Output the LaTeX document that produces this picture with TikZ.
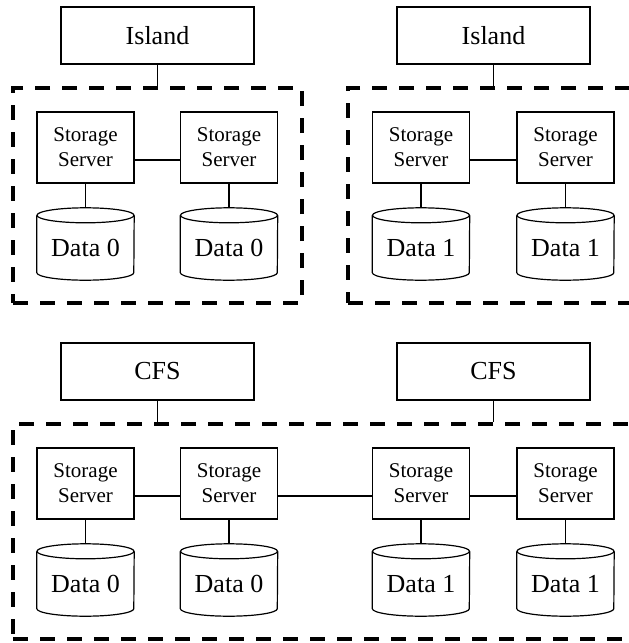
\documentclass[tikz,border=0pt]{standalone}
\usepackage{fontspec}
\setmainfont{Liberation Serif}
\tikzset{
  topbox/.style={draw, line width=1.2pt, minimum width=193pt, minimum height=57pt, inner sep=0pt, font=\fontsize{26}{30}\selectfont},
  srv/.style={draw, line width=1.2pt, minimum width=97pt, minimum height=71pt, inner sep=0pt, align=center, font=\fontsize{21}{25}\selectfont},
  cylbody/.style={minimum width=97pt, minimum height=64.5pt, inner sep=0pt, font=\fontsize{26}{30}\selectfont},
  link/.style={line width=1.2pt},
  grp/.style={draw, line width=3.5pt, dash pattern=on 15pt off 12pt, inner sep=0pt},
}
\newcommand{\cylpath}[1]{%
  \draw[link] (#1.north) ellipse[x radius=48.5pt, y radius=7.5pt];
  \draw[link] (#1.north west) -- ([yshift=7.5pt]#1.south west) arc[start angle=180, end angle=360, x radius=48.5pt, y radius=7.5pt] -- (#1.north east);
}
\begin{document}
\begin{tikzpicture}[x=1pt,y=-1pt]
\clip (0,0) rectangle (629,643);
% ---- top groups
\node[topbox] (isA) at (157.5,35.5) {Island};
\node[topbox] (isB) at (493.5,35.5) {Island};
\node[grp, minimum width=289pt, minimum height=215pt] (gA) at (157.5,195.5) {};
\node[grp, minimum width=290pt, minimum height=215pt] (gB) at (493,195.5) {};
\draw[link] (isA.south) -- (isA.south |- gA.north);
\draw[link] (isB.south) -- (isB.south |- gB.north);
\node[srv] (sA1) at (85.5,147.5) {Storage\\Server};
\node[srv] (sA2) at (229,147.5) {Storage\\Server};
\node[srv] (sB1) at (421,147.5) {Storage\\Server};
\node[srv] (sB2) at (565.5,147.5) {Storage\\Server};
\node[cylbody] (cA1) at (85.5,247.75) {Data 0};
\node[cylbody] (cA2) at (229,247.75) {Data 0};
\node[cylbody] (cB1) at (421,247.75) {Data 1};
\node[cylbody] (cB2) at (565.5,247.75) {Data 1};
\foreach \c in {cA1,cA2,cB1,cB2} {\cylpath{\c}}
\draw[link] ([yshift=-12.5pt]sA1.east) -- ([yshift=-12.5pt]sA2.west);
\draw[link] ([yshift=-12.5pt]sB1.east) -- ([yshift=-12.5pt]sB2.west);
\draw[link] (sA1.south) -- ([yshift=7.5pt]cA1.north);
\draw[link] (sA2.south) -- ([yshift=7.5pt]cA2.north);
\draw[link] (sB1.south) -- ([yshift=7.5pt]cB1.north);
\draw[link] (sB2.south) -- ([yshift=7.5pt]cB2.north);
% ---- bottom group
\node[topbox] (cfA) at (157.5,371.5) {CFS};
\node[topbox] (cfB) at (493.5,371.5) {CFS};
\node[grp, minimum width=632pt, minimum height=215pt] (gC) at (329,531.5) {};
\draw[link] (cfA.south) -- (cfA.south |- gC.north);
\draw[link] (cfB.south) -- (cfB.south |- gC.north);
\node[srv] (t1) at (85.5,483.5) {Storage\\Server};
\node[srv] (t2) at (229,483.5) {Storage\\Server};
\node[srv] (t3) at (421,483.5) {Storage\\Server};
\node[srv] (t4) at (565.5,483.5) {Storage\\Server};
\node[cylbody] (d1) at (85.5,583.75) {Data 0};
\node[cylbody] (d2) at (229,583.75) {Data 0};
\node[cylbody] (d3) at (421,583.75) {Data 1};
\node[cylbody] (d4) at (565.5,583.75) {Data 1};
\foreach \c in {d1,d2,d3,d4} {\cylpath{\c}}
\draw[link] ([yshift=-12.5pt]t1.east) -- ([yshift=-12.5pt]t2.west);
\draw[link] ([yshift=-12.5pt]t2.east) -- ([yshift=-12.5pt]t3.west);
\draw[link] ([yshift=-12.5pt]t3.east) -- ([yshift=-12.5pt]t4.west);
\draw[link] (t1.south) -- ([yshift=7.5pt]d1.north);
\draw[link] (t2.south) -- ([yshift=7.5pt]d2.north);
\draw[link] (t3.south) -- ([yshift=7.5pt]d3.north);
\draw[link] (t4.south) -- ([yshift=7.5pt]d4.north);
\end{tikzpicture}
\end{document}
